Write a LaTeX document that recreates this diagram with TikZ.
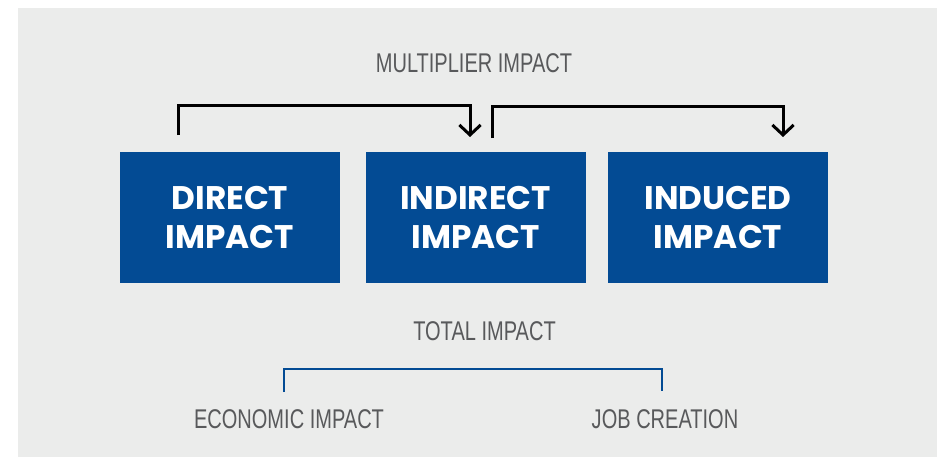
\documentclass[tikz,border=0pt]{standalone}
\usepackage{fontspec}
\usepackage{tikz}
\usetikzlibrary{arrows.meta,positioning}
\newfontfamily\boxfont{Poppins}
\newfontfamily\labelfont[FakeStretch=0.74]{Liberation Sans}
\definecolor{impactblue}{HTML}{034B94}
\definecolor{panelgray}{HTML}{EBECEB}
\definecolor{labelgray}{HTML}{58595B}

\begin{document}
\begin{tikzpicture}[x=0.75pt,y=-0.75pt,>={Straight Barb[length=7.5pt,width=16pt]},
      impact box/.style={fill=impactblue,minimum width=165pt,minimum height=98pt,
        align=center,text=white,font=\boxfont\bfseries\fontsize{24.5}{29.3}\selectfont},
      label text/.style={anchor=base,text=labelgray,inner sep=0pt,
        font=\labelfont\fontsize{20.3}{24}\selectfont},
      multiplier line/.style={draw=black,line width=2.25pt,line join=miter},
      total line/.style={draw=impactblue,line width=2.2pt}]

      \useasboundingbox (0,0) rectangle (941,457);
      \fill[panelgray] (18,8) rectangle (937,457);

      % the three boxes
      \node[impact box] (direct) at (230,217.5) {DIRECT\\IMPACT};
      \node[impact box,right=18.75pt of direct] (indirect) {INDIRECT\\IMPACT};
      \node[impact box,right=16.5pt of indirect] (induced) {INDUCED\\IMPACT};

      \node[label text] (multiplier) at (474,72) {MULTIPLIER IMPACT};
      \node[label text] (total) at (484.5,340) {TOTAL IMPACT};
      \node[label text] (economic) at (289,428) {ECONOMIC IMPACT};
      \node[label text] (jobs) at (665,428) {JOB CREATION};

      % bracket ends
      \coordinate (from1) at (178,135);
      \coordinate (top1) at (470,105);
      \coordinate (to1) at (470,137);
      \coordinate (from2) at (492,138);
      \coordinate (top2) at (783,106);
      \coordinate (to2) at (783,137);
      \coordinate (econ end) at (284,392);
      \coordinate (job top) at (662,369);
      \coordinate (job end) at (662,391);

      \draw[multiplier line,->] (from1) |- (top1) -- (to1);
      \draw[multiplier line,->] (from2) |- (top2) -- (to2);
      \draw[total line] (econ end) |- (job top) -- (job end);
    \end{tikzpicture}
\end{document}
